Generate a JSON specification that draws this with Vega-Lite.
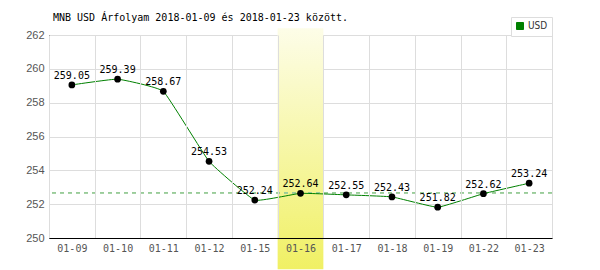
{
  "$schema": "https://vega.github.io/schema/vega-lite/v6.json",
  "width": 503,
  "height": 203,
  "autosize": {"type": "none"},
  "padding": {"left": 49, "top": 35, "right": 48, "bottom": 32},
  "background": "white",
  "config": {
    "axisY": {
      "title": null,
      "values": [250, 252, 254, 256, 258, 260, 262],
      "tickCount": 7,
      "labelOverlap": false,
      "ticks": false,
      "grid": true,
      "gridColor": "#dddddd",
      "domainColor": "#000",
      "labelFont": "Liberation Sans",
      "labelFontSize": 11,
      "labelColor": "#555",
      "labelPadding": 5
    }
  },
  "title": {
    "text": "MNB USD Árfolyam 2018-01-09 és 2018-01-23 között.",
    "anchor": "start",
    "frame": "group",
    "font": "DejaVu Sans Mono",
    "fontSize": 10,
    "fontWeight": "normal",
    "color": "#000",
    "dx": 4,
    "offset": -6
  },
  "data": {
    "values": [
      {"date": "01-09", "value": 259.05, "currency": "USD"},
      {"date": "01-10", "value": 259.39, "currency": "USD"},
      {"date": "01-11", "value": 258.67, "currency": "USD"},
      {"date": "01-12", "value": 254.53, "currency": "USD"},
      {"date": "01-15", "value": 252.24, "currency": "USD"},
      {"date": "01-16", "value": 252.64, "currency": "USD"},
      {"date": "01-17", "value": 252.55, "currency": "USD"},
      {"date": "01-18", "value": 252.43, "currency": "USD"},
      {"date": "01-19", "value": 251.82, "currency": "USD"},
      {"date": "01-22", "value": 252.62, "currency": "USD"},
      {"date": "01-23", "value": 253.24, "currency": "USD"}
    ]
  },
  "encoding": {
    "x": {
      "field": "date",
      "type": "ordinal",
      "scale": {"paddingInner": 0, "paddingOuter": 0},
      "axis": {
        "title": null,
        "labelAngle": 0,
        "tickBand": "extent",
        "ticks": false,
        "grid": true,
        "gridColor": "#dddddd",
        "domainColor": "#000",
        "labelFont": "DejaVu Sans Mono",
        "labelFontSize": 10,
        "labelColor": "#555",
        "labelPadding": 5
      }
    }
  },
  "layer": [
    {
      "transform": [{"filter": "datum.date == '01-16'"}],
      "mark": {
        "type": "rect",
        "color": {
          "gradient": "linear",
          "x1": 0, "y1": 0, "x2": 0, "y2": 1,
          "stops": [
            {"offset": 0, "color": "#fdfde8"},
            {"offset": 1, "color": "#f0f064"}
          ]
        }
      },
      "encoding": {
        "y": {
          "datum": 262.4,
          "type": "quantitative",
          "scale": {"domain": [250, 262], "nice": false, "zero": false}
        },
        "y2": {"datum": 248.15}
      }
    },
    {
      "mark": {"type": "rule", "color": "#99cc99", "strokeDash": [4, 4], "strokeWidth": 1},
      "encoding": {
        "y": {"datum": 252.68, "type": "quantitative"},
        "x": null
      }
    },
    {
      "mark": {"type": "line", "interpolate": "cardinal", "tension": 0.7, "strokeWidth": 1},
      "encoding": {
        "y": {"field": "value", "type": "quantitative"},
        "color": {
          "field": "currency",
          "type": "nominal",
          "scale": {"range": ["#008000"]},
          "legend": {
            "title": null,
            "orient": "none",
            "legendX": 462,
            "legendY": -18,
            "symbolType": "square",
            "symbolFillColor": "#008000",
            "symbolStrokeColor": "#444",
            "symbolStrokeWidth": 1,
            "symbolSize": 49,
            "labelFont": "DejaVu Sans Condensed",
            "labelFontSize": 10,
            "labelColor": "#333",
            "labelOffset": 3,
            "strokeColor": "#dddddd",
            "fillColor": "white",
            "padding": 4
          }
        }
      }
    },
    {
      "mark": {"type": "point", "filled": true, "color": "#000", "size": 45, "opacity": 1},
      "encoding": {
        "y": {"field": "value", "type": "quantitative"}
      }
    },
    {
      "mark": {"type": "text", "font": "DejaVu Sans Mono", "fontSize": 10, "color": "#000", "baseline": "bottom", "dy": -4},
      "encoding": {
        "y": {"field": "value", "type": "quantitative"},
        "text": {"field": "value", "type": "quantitative", "format": ".2f"}
      }
    }
  ]
}
